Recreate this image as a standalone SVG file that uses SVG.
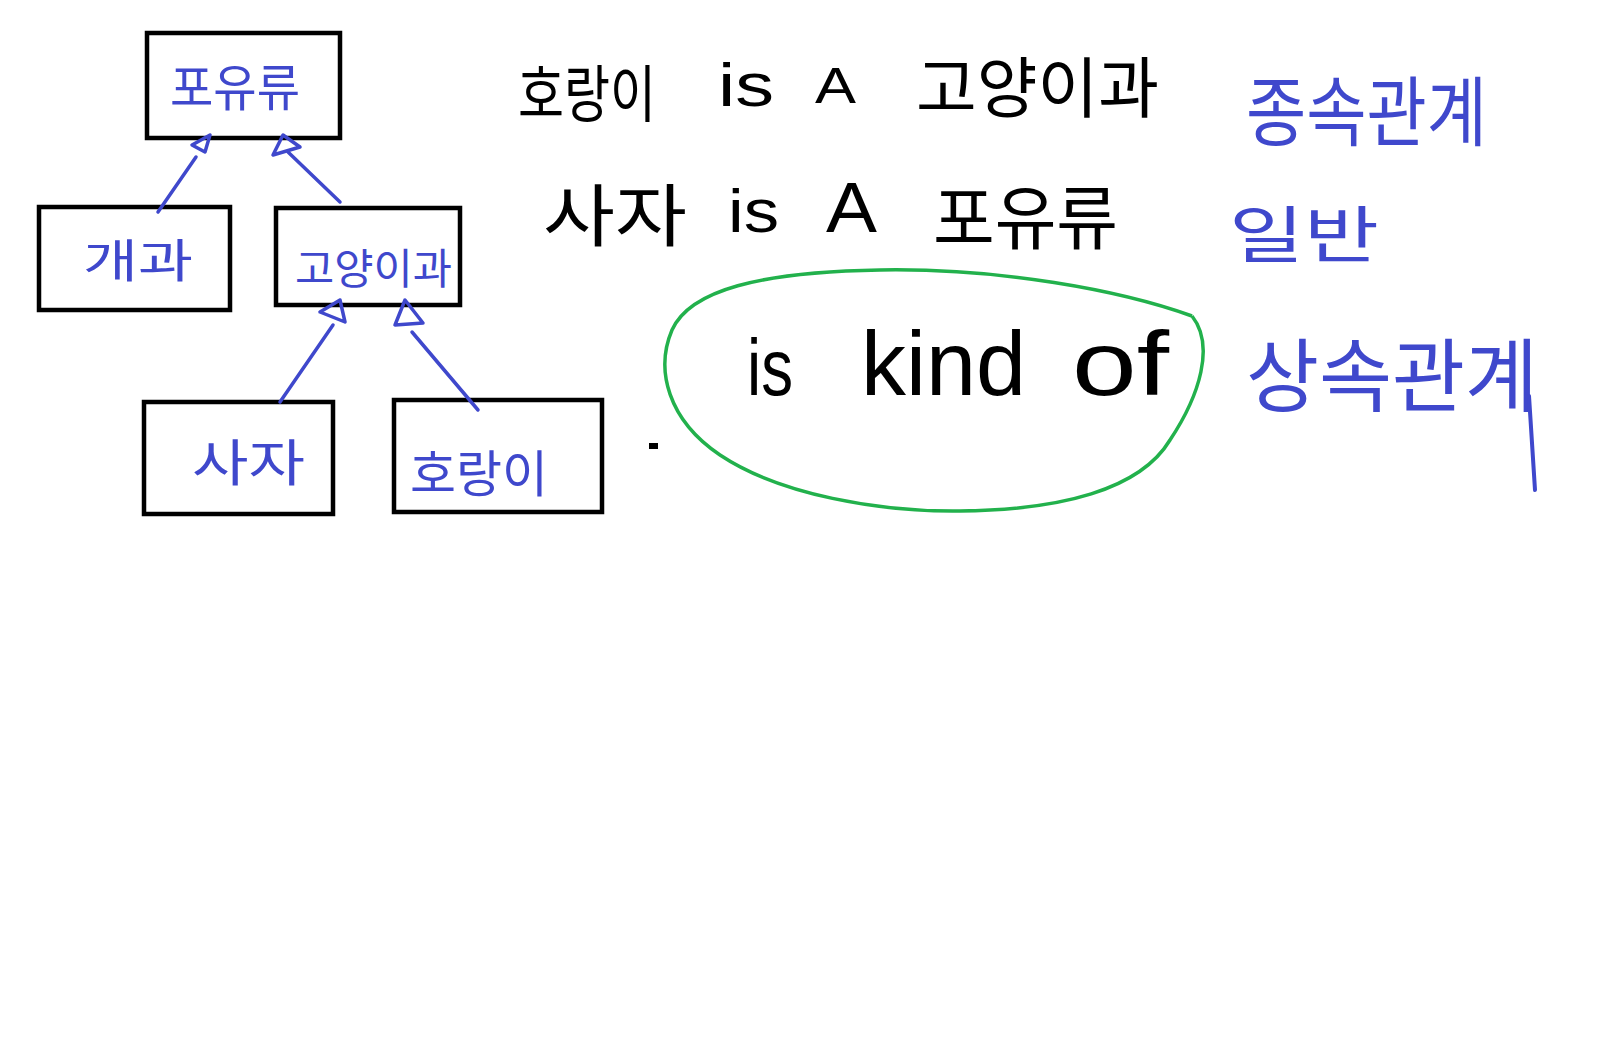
<svg xmlns="http://www.w3.org/2000/svg" width="1608" height="1043" viewBox="0 0 1608 1043">
<style>
.box{fill:#fff;stroke:#000;stroke-width:4.5}
.lbl{font-family:"Noto Sans CJK KR","Liberation Sans",sans-serif;fill:#3f48cc}
.blk{font-family:"Liberation Sans","Noto Sans CJK KR",sans-serif;fill:#000}
.blkk{font-family:"Noto Sans CJK KR","Liberation Sans",sans-serif;fill:#000}
.edge{stroke:#3f48cc;stroke-width:3.5;fill:none;stroke-linecap:round;stroke-linejoin:round}
</style>
<rect width="1608" height="1043" fill="#fff"/>
<g id="node-mammal">
<rect class="box" x="147" y="33" width="193" height="105"/>
<text class="lbl" x="170" y="106" font-size="50" textLength="130" lengthAdjust="spacingAndGlyphs">포유류</text>
</g>
<g id="node-canine">
<rect class="box" x="39" y="207" width="191" height="103"/>
<text class="lbl" x="83" y="277" font-size="46" textLength="110" lengthAdjust="spacingAndGlyphs">개과</text>
</g>
<g id="node-feline">
<rect class="box" x="276" y="208" width="184" height="97"/>
<text class="lbl" x="295" y="284" font-size="42" textLength="157" lengthAdjust="spacingAndGlyphs">고양이과</text>
</g>
<g id="node-lion">
<rect class="box" x="144" y="402" width="189" height="112"/>
<text class="lbl" x="192" y="481" font-size="50" textLength="113" lengthAdjust="spacingAndGlyphs">사자</text>
</g>
<g id="node-tiger">
<rect class="box" x="394" y="400" width="208" height="112"/>
<text class="lbl" x="410" y="492" font-size="50" textLength="138" lengthAdjust="spacingAndGlyphs">호랑이</text>
</g>
<g id="connectors">
<line class="edge" x1="158" y1="212" x2="196" y2="157"/>
<polygon class="edge" points="210,135 192,145 205,152"/>
<line class="edge" x1="340" y1="202" x2="288" y2="152"/>
<polygon class="edge" points="283,135 273,155 300,147"/>
<line class="edge" x1="280" y1="402" x2="333" y2="325"/>
<polygon class="edge" points="340,300 320,312 345,322"/>
<line class="edge" x1="478" y1="410" x2="412" y2="332"/>
<polygon class="edge" points="405,300 395,325 423,323"/>
</g>
<g id="statements">
<text class="blkk" x="518" y="117" font-size="62" textLength="138" lengthAdjust="spacingAndGlyphs">호랑이</text>
<text class="blk" x="718" y="106" font-size="62" textLength="56" lengthAdjust="spacingAndGlyphs">is</text>
<text class="blk" x="815" y="103" font-size="50" textLength="41" lengthAdjust="spacingAndGlyphs">A</text>
<text class="blkk" x="916" y="112" font-size="66" textLength="243" lengthAdjust="spacingAndGlyphs">고양이과</text>
<text class="blkk" x="543" y="241" font-size="68" textLength="144" lengthAdjust="spacingAndGlyphs">사자</text>
<text class="blk" x="728" y="232" font-size="62" textLength="51" lengthAdjust="spacingAndGlyphs">is</text>
<text class="blk" x="826" y="232" font-size="70" textLength="51" lengthAdjust="spacingAndGlyphs">A</text>
<text class="blkk" x="933" y="244" font-size="70" textLength="185" lengthAdjust="spacingAndGlyphs">포유류</text>
<rect x="649" y="443" width="9" height="6" fill="#000"/>
</g>
<g id="kind-of">
<path d="M 1192 316 C 1120 290, 1000 268, 880 270 C 760 272, 690 290, 672 330 C 655 370, 668 420, 720 455 C 780 495, 880 512, 960 511 C 1060 510, 1140 490, 1170 440 C 1200 395, 1215 345, 1192 316" fill="none" stroke="#22b14c" stroke-width="3.5"/>
<text class="blk" x="747" y="395" font-size="80" textLength="46" lengthAdjust="spacingAndGlyphs">is</text>
<text class="blk" x="861" y="395" font-size="90" textLength="165" lengthAdjust="spacingAndGlyphs">kind</text>
<text class="blk" x="1072" y="395" font-size="90" textLength="97" lengthAdjust="spacingAndGlyphs">of</text>
</g>
<g id="notes">
<text class="lbl" x="1246" y="140" font-size="76" textLength="241" lengthAdjust="spacingAndGlyphs">종속관계</text>
<text class="lbl" x="1229" y="258" font-size="62" textLength="150" lengthAdjust="spacingAndGlyphs">일반</text>
<text class="lbl" x="1246" y="405" font-size="80" textLength="292" lengthAdjust="spacingAndGlyphs">상속관계</text>
<line x1="1529" y1="396" x2="1535" y2="490" stroke="#3f48cc" stroke-width="4" stroke-linecap="round"/>
</g>
</svg>
